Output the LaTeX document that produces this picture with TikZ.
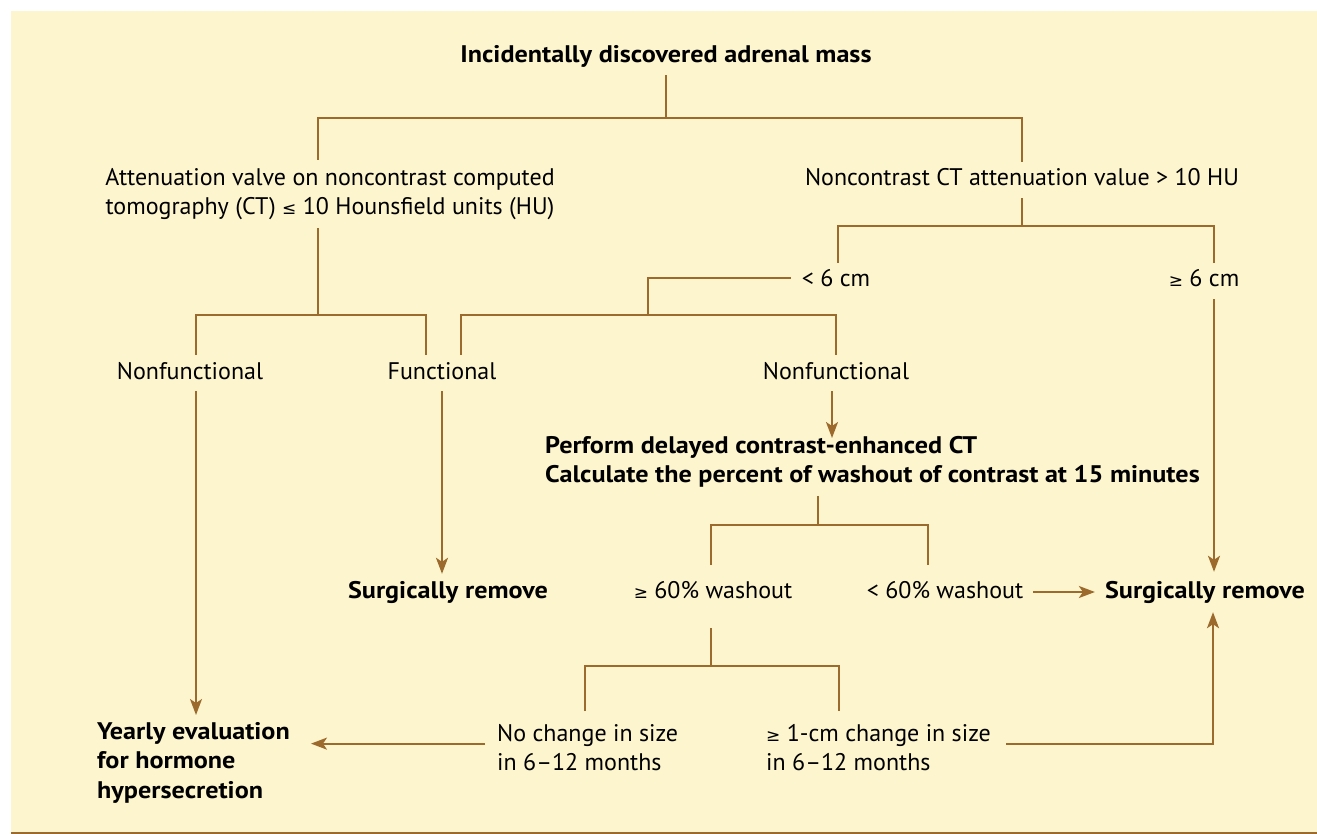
\documentclass[tikz,border=0pt]{standalone}
\usepackage{fontspec}
\setmainfont{PT Sans}[BoldFeatures={FakeStretch=1.09}]
\newfontfamily\symf{DejaVu Sans}
\usetikzlibrary{arrows.meta,calc}
\definecolor{bgc}{HTML}{FDF5CE}
\definecolor{lc}{HTML}{9C6A2C}
\newcommand\GEs{{\symf\fontsize{17}{17}\selectfont ≥}}
\newcommand\LEs{{\symf\fontsize{17}{17}\selectfont ≤}}
\begin{document}
\begin{tikzpicture}[x=1pt,y=-1pt,
  ln/.style={draw=lc, line width=2pt},
  arr/.style={ln, -{Stealth[length=16pt,width=12pt,inset=4pt]}},
  lab/.style={font=\fontsize{24}{29.5}\selectfont, inner xsep=2pt, inner ysep=7pt, text height=17pt, text depth=5pt, anchor=base},
  blab/.style={lab, font=\bfseries\fontsize{24}{29.5}\selectfont},
  multi/.style={font=\fontsize{24}{29.5}\selectfont, align=left, inner sep=0pt},
  bmulti/.style={multi, font=\bfseries\fontsize{24}{29.5}\selectfont}]
\useasboundingbox (0,0) rectangle (1317,834);
\fill[bgc] (11,11) rectangle (1317,834);
\draw[lc, line width=2pt] (11,832.5) -- (1317,832.5);

% nodes
\node[blab] (top) at (666,63) {Incidentally discovered adrenal mass};
\node[multi, align=center, anchor=north, inner ysep=8pt] (lct) at (330,160) {Attenuation valve on noncontrast computed\\tomography (CT) \LEs\ 10 Hounsfield units (HU)};
\node[lab] (rct) at (1022,186) {Noncontrast CT attenuation value > 10 HU};
\node[lab] (lt6) at (836,287) {< 6 cm};
\node[lab] (ge6) at (1204,287) {\GEs\ 6 cm};
\node[lab] (nf1) at (190,379) {Nonfunctional};
\node[lab] (fn1) at (442,379) {Functional};
\node[lab] (nf2) at (836,379) {Nonfunctional};
\node[bmulti, anchor=north west] (perf) at (545,436) {Perform delayed contrast-enhanced CT\\Calculate the percent of washout of contrast at 15 minutes};
\node[blab] (sr1) at (448,598) {Surgically remove};
\node[lab] (ge60) at (713,598) {\GEs\ 60\% washout};
\node[lab] (lt60) at (945,598) {< 60\% washout};
\node[blab] (sr2) at (1205,598) {Surgically remove};
\node[multi, anchor=north west] (nochg) at (497,724) {No change in size\\in 6–12 months};
\node[multi, anchor=north west] (ge1) at (766,724) {\GEs\ 1-cm change in size\\in 6–12 months};
\node[bmulti, anchor=north west] (yearly) at (97,722) {Yearly evaluation\\for hormone\\hypersecretion};

% junctions
\coordinate (j1) at (666,118);
\coordinate (j2) at (318,315);
\coordinate (j3) at (1022,226);
\coordinate (j4) at (648,315);
\coordinate (j5) at (818,525);
\coordinate (j6) at (711,666);

% connectors
\draw[ln] (top.south) -- (j1);
\draw[ln] ($(lct.north)+(-12,0)$) |- (j1) -| (rct.north);
\draw[ln] ($(lct.south)+(-12,0)$) -- (j2);
\draw[ln] ($(nf1.north)+(6,0)$) |- (j2) -| ($(fn1.north)+(-16,0)$);
\draw[ln] (rct.south) -- (j3);
\draw[ln] ($(lt6.north)+(2,0)$) |- (j3) -| ($(ge6.north)+(10,0)$);
\draw[ln] ($(lt6.west)+(-9,-3)$) -| (j4);
\draw[ln] ($(fn1.north)+(19,0)$) |- (j4) -| (nf2.north);
\draw[arr] ($(nf1.south)+(6,0)$) -- ($(nf1.south |- yearly.north)+(6,-7)$);
\draw[arr] (fn1.south) -- (fn1.south |- sr1.north);
\draw[arr] ($(nf2.south)+(-4,0)$) -- ($(nf2.south |- perf.north)+(-4,2)$);
\draw[ln] ($(perf.south -| j5)+(0,8)$) -- (j5);
\draw[ln] ($(ge60.north)+(-2,-9)$) |- (j5) -| ($(lt60.north)+(-17,-9)$);
\draw[arr] ($(lt60.east)+(8,0)$) -- ($(sr2.west)+(-8,0)$);
\draw[arr] ($(ge6.south)+(10,0)$) -- ($(ge6.south |- sr2.north)+(10,-2)$);
\draw[ln] ($(ge60.south)+(-2,18)$) -- (j6);
\draw[ln] ($(nochg.north west)+(88,-13)$) |- (j6) -| ($(ge1.north west)+(73,-13)$);
\draw[arr] ($(nochg.west)+(-12,-4)$) -- ($(nochg.west -| yearly.east)+(21,-4)$);
\draw[arr] ($(ge1.east)+(15,-4)$) -| ($(sr2.south)+(8,2)$);
\end{tikzpicture}
\end{document}
